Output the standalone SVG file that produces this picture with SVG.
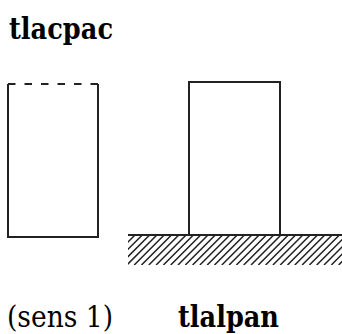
<svg xmlns="http://www.w3.org/2000/svg" width="342" height="334" viewBox="0 0 342 334">
<style>
text{font-family:"DejaVu Serif",serif;font-size:30px;fill:#000}
.b{font-weight:bold}
.ln{fill:none;stroke:#222;stroke-width:2}
.h{fill:none;stroke:#222;stroke-width:1.5}
</style>
<defs>
<clipPath id="hc"><rect x="128" y="235" width="214" height="30"/></clipPath>
</defs>
<rect width="342" height="334" fill="#fff"/>
<g id="label-tlacpac"><text class="b" x="9" y="39" textLength="104" lengthAdjust="spacingAndGlyphs">tlacpac</text></g>
<g id="box-left">
<path class="ln" d="M8,84 V237 H98 V84"/>
<path class="ln" d="M8,84 H98" stroke-dasharray="7.5 9"/>
</g>
<g id="ground">
<path class="h" clip-path="url(#hc)" d="M135,235 l-30,30 M142.3,235 l-30,30 M149.6,235 l-30,30 M156.9,235 l-30,30 M164.2,235 l-30,30 M171.5,235 l-30,30 M178.8,235 l-30,30 M186.1,235 l-30,30 M193.4,235 l-30,30 M200.7,235 l-30,30 M208,235 l-30,30 M215.3,235 l-30,30 M222.6,235 l-30,30 M229.9,235 l-30,30 M237.2,235 l-30,30 M244.5,235 l-30,30 M251.8,235 l-30,30 M259.1,235 l-30,30 M266.4,235 l-30,30 M273.7,235 l-30,30 M281,235 l-30,30 M288.3,235 l-30,30 M295.6,235 l-30,30 M302.9,235 l-30,30 M310.2,235 l-30,30 M317.5,235 l-30,30 M324.8,235 l-30,30 M332.1,235 l-30,30 M339.4,235 l-30,30 M346.7,235 l-30,30 M354,235 l-30,30 M361.3,235 l-30,30 M368.6,235 l-30,30"/>
<path class="ln" d="M128,235 H342"/>
</g>
<g id="box-right">
<path class="ln" d="M189,235 V82 H280 V235"/>
</g>
<g id="label-sens"><text x="7" y="327" textLength="106" lengthAdjust="spacingAndGlyphs">(sens 1)</text></g>
<g id="label-tlalpan"><text class="b" x="178" y="327" textLength="101" lengthAdjust="spacingAndGlyphs">tlalpan</text></g>
</svg>
